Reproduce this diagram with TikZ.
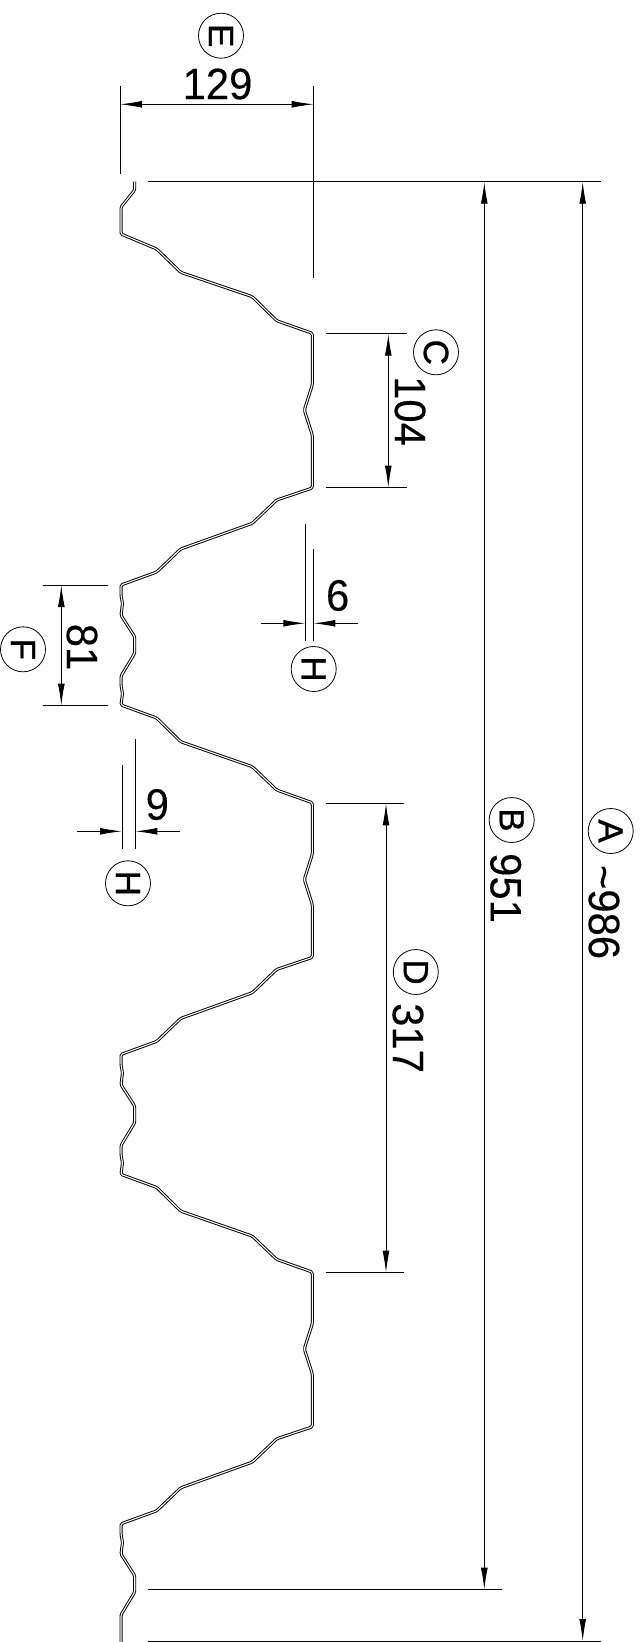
\documentclass[tikz,border=0pt]{standalone}
\usepackage{fontspec}
\setmainfont{Liberation Sans}
\newfontfamily\dimfont[FakeStretch=0.95,FakeBold=0.25]{Liberation Sans}
\newfontfamily\bubfont[FakeBold=0.9]{Liberation Sans}
\usetikzlibrary{arrows.meta}
\tikzset{
  dimtext/.style={inner sep=0pt,font=\dimfont\fontsize{44}{44}\selectfont},
  vtext/.style={dimtext,rotate=-90},
  bubble/.style={draw,circle,line width=.8pt,minimum size=45pt,inner sep=0pt,rotate=-90,font=\bubfont\fontsize{35}{35}\selectfont},
  extline/.style={line width=.9pt},
  dimline/.style={line width=.9pt,-{Latex[length=22pt,width=6.8pt]}},
  dimboth/.style={line width=.9pt,{Latex[length=22pt,width=6.8pt]}-{Latex[length=22pt,width=6.8pt]}},
  sheet/.style={line width=.95pt,double=white,double distance=1.1pt,rounded corners=1.5pt,line join=round}
}
\begin{document}
\begin{tikzpicture}[x=1pt,y=-1pt]
\useasboundingbox (0,0) rectangle (642,1642);
% sheet profile
\draw[sheet] (134.7,181.7)--(134.7,190)--(121,207)--(121,234)--(156.7,249)--(180.7,272.3)--(252.3,296.7)--(276.7,320.7)
--(312.3,333.3)--(312.3,385)--(304.3,410)--(312.3,435)--(312.3,488)--(276.7,500)--(252.3,523.3)--(180.7,549)--(156.7,572)--(121,585)--(121,595.3)--(122.5,603.3)--(121,615.3)--(134.7,636.7)--(134.7,653.3)--(121,676)--(121,685.3)--(122.5,693.3)--(121,705)--(156.7,718)--(180.7,741.7)--(252.3,766.7)--(276.7,790)
--(312.3,802.7)--(312.3,854.4)--(304.3,879.4)--(312.3,904.4)--(312.3,957.4)--(276.7,969.4)--(252.3,992.7)--(180.7,1018.4)--(156.7,1041.4)--(121,1054.4)--(121,1064.7)--(122.5,1072.7)--(121,1084.7)--(134.7,1106.1)--(134.7,1122.7)--(121,1145.4)--(121,1154.7)--(122.5,1162.7)--(121,1174.4)--(156.7,1187.4)--(180.7,1211.1)--(252.3,1236.1)--(276.7,1259.4)
--(312.3,1272.1)--(312.3,1323.8)--(304.3,1348.8)--(312.3,1373.8)--(312.3,1426.8)--(276.7,1438.8)--(252.3,1462.1)--(180.7,1487.8)--(156.7,1510.8)--(121,1523.8)--(121,1534.1)--(122.5,1542.1)--(121,1554.1)--(134.7,1575.5)--(134.7,1592.1)--(121,1614.8)--(121,1642);
% extension lines
\draw[extline] (148.3,181.7)--(601,181.7);
\draw[extline] (148.3,181.7)--(502,181.7);
\draw[extline] (148.3,1589.7)--(502,1589.7);
\draw[extline] (148.3,1641)--(601,1641);
\draw[extline] (120,86)--(120,174);
\draw[extline] (313.7,86)--(313.7,278);
\draw[extline] (325.7,333.7)--(406.7,333.7);
\draw[extline] (325.7,487.7)--(406.7,487.7);
\draw[extline] (305.3,524.3)--(305.3,641);
\draw[extline] (313.3,549)--(313.3,641);
\draw[extline] (43.3,585)--(108.3,585);
\draw[extline] (43.3,705.7)--(108.3,705.7);
\draw[extline] (122,765)--(122,849);
\draw[extline] (135.3,739)--(135.3,849);
\draw[extline] (325.7,803.3)--(404.3,803.3);
\draw[extline] (325.7,1272.7)--(404.3,1272.7);
% dimension end points
\coordinate (Ea) at (120,104.3);   \coordinate (Eb) at (313.7,104.3);
\coordinate (Ba) at (484.3,181.7); \coordinate (Bb) at (484.3,1589.7);
\coordinate (Aa) at (582.7,181.7); \coordinate (Ab) at (582.7,1641);
\coordinate (Ca) at (388.3,333.7); \coordinate (Cb) at (388.3,487.7);
\coordinate (Da) at (386,803.3);   \coordinate (Db) at (386,1272.7);
\coordinate (Fa) at (61.3,585);    \coordinate (Fb) at (61.3,705.7);
\coordinate (Ha) at (261,623.3);   \coordinate (Hb) at (305.3,623.3);
\coordinate (Hc) at (358.3,623.3); \coordinate (Hd) at (313.3,623.3);
\coordinate (Ie) at (77.3,831.3);  \coordinate (If) at (122,831.3);
\coordinate (Ig) at (180,831.3);   \coordinate (Ih) at (135.3,831.3);
% dimension lines
\draw[dimboth] (Ea)--(Eb);
\draw[dimboth] (Ba)--(Bb);
\draw[dimboth] (Aa)--(Ab);
\draw[dimboth] (Ca)--(Cb);
\draw[dimboth] (Da)--(Db);
\draw[dimboth] (Fa)--(Fb);
\draw[dimline] (Ha)--(Hb);
\draw[dimline] (Hc)--(Hd);
\draw[dimline] (Ie)--(If);
\draw[dimline] (Ig)--(Ih);
% dimension values
\node[dimtext] (t129) at (217.5,84) {129};
\node[vtext] (t104) at (410,411) {104};
\node[dimtext] (t6) at (337.7,595.5) {6};
\node[vtext] (t81) at (82,647) {81};
\node[dimtext] (t9) at (157.3,804.5) {9};
\node[vtext] (t317) at (408,1038) {317};
\node[vtext] (t951) at (505.7,888) {951};
\node[vtext] (t986) at (604,912) {\char"007E 986};
% letter bubbles
\node[bubble] (bE) at (221,35.7) {E};
\node[bubble] (bC) at (436,352.3) {C};
\node[bubble] (bH1) at (313.7,669) {H};
\node[bubble] (bF) at (23,649.3) {F};
\node[bubble] (bH2) at (128,883.3) {H};
\node[bubble] (bD) at (415.8,972) {D};
\node[bubble] (bB) at (511.7,820) {B};
\node[bubble] (bA) at (610.7,831) {A};
\end{tikzpicture}
\end{document}
